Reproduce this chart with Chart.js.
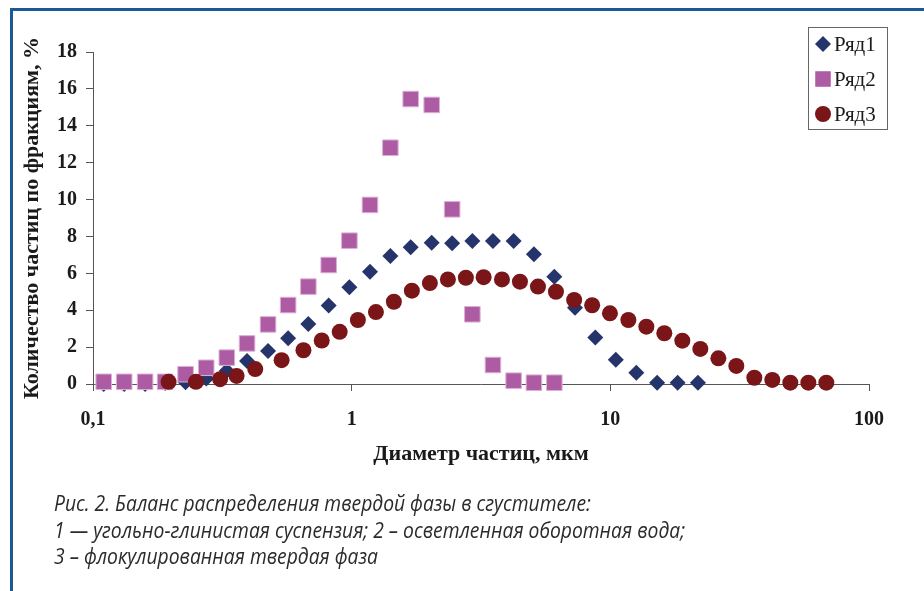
<!DOCTYPE html>
<html lang="ru">
<head>
    <meta charset="UTF-8">
    <title>Баланс распределения твердой фазы в сгустителе</title>
    <script src="https://cdn.jsdelivr.net/npm/chart.js"></script>
    <style>
        html, body { margin: 0; padding: 0; background: #fff; }
        #wrap { position: relative; width: 924px; height: 591px; overflow: hidden; }
        #frameTop { position: absolute; left: 10px; top: 8px; width: 914px; height: 3px; background: #1b5a97; }
        #frameLeft { position: absolute; left: 10px; top: 8px; width: 3px; height: 583px; background: #1b5a97; }
        #caption {
            position: absolute; left: 54px; top: 489px;
            font-family: "Open Sans", sans-serif; font-style: italic; font-size: 22px;
            line-height: 26.5px; color: #2b2b2b; white-space: nowrap;
            transform-origin: left top;
        }
        #chart { position: absolute; left: 0; top: 0; }
    </style>
</head>
<body>
<div id="wrap">
    <canvas id="chart" width="924" height="591"></canvas>
    <div id="frameTop"></div>
    <div id="frameLeft"></div>
    <div id="caption">
        <div>Рис. 2. Баланс распределения твердой фазы в сгустителе:</div>
        <div id="capLine2">1 — угольно-глинистая суспензия; 2 – осветленная оборотная вода;</div>
        <div>3 – флокулированная твердая фаза</div>
    </div>
</div>

<script>
    // Ряд1 - угольно-глинистая суспензия
    const x1 = [0.110, 0.132, 0.159, 0.190, 0.228, 0.274, 0.329, 0.394, 0.475, 0.568, 0.680, 0.815, 0.980,
                1.177, 1.411, 1.691, 2.039, 2.446, 2.928, 3.517, 4.228, 5.066, 6.074, 7.30, 8.75, 10.50,
                12.60, 15.17, 18.20, 21.81];
    const y1 = [0.0, 0.0, 0.0, 0.05, 0.1, 0.3, 0.72, 1.25, 1.79, 2.48, 3.25, 4.25, 5.24,
                6.09, 6.94, 7.41, 7.66, 7.63, 7.75, 7.75, 7.75, 7.03, 5.82, 4.14, 2.52, 1.32,
                0.61, 0.07, 0.07, 0.07];

    // Ряд2 - осветленная оборотная вода
    const x2 = [0.110, 0.132, 0.159, 0.190, 0.228, 0.274, 0.329, 0.394, 0.475, 0.568, 0.680, 0.815, 0.980,
                1.177, 1.411, 1.691, 2.039, 2.446, 2.928, 3.517, 4.228, 5.066, 6.074];
    const y2 = [0.12, 0.12, 0.12, 0.12, 0.53, 0.88, 1.43, 2.2, 3.23, 4.28, 5.28, 6.45, 7.77,
                9.71, 12.81, 15.45, 15.13, 9.47, 3.78, 1.03, 0.18, 0.07, 0.07];

    // Ряд3 - флокулированная твердая фаза
    const x3 = [0.196, 0.250, 0.310, 0.359, 0.424, 0.536, 0.651, 0.766, 0.899, 1.057, 1.241, 1.456, 1.709,
                2.006, 2.355, 2.764, 3.237, 3.811, 4.473, 5.251, 6.163, 7.246, 8.506, 9.966, 11.74,
                13.78, 16.17, 18.98, 22.28, 26.16, 30.70, 36.03, 42.29, 49.64, 58.28, 68.39];
    const y3 = [0.12, 0.12, 0.26, 0.44, 0.81, 1.29, 1.83, 2.36, 2.83, 3.47, 3.9, 4.46, 5.06,
                5.47, 5.67, 5.76, 5.79, 5.67, 5.55, 5.28, 5.0, 4.56, 4.27, 3.83, 3.47,
                3.11, 2.75, 2.35, 1.9, 1.39, 0.98, 0.34, 0.22, 0.07, 0.07, 0.07];

    const xTickValues = [0.1, 1, 10, 100];
    const xTickLabels = ['0,1', '1', '10', '100'];

    const toPoints = (xs, ys) => xs.map((x, i) => ({x: x, y: ys[i]}));

    const serif = '"Liberation Serif", "Times New Roman", serif';

    // legend in a box, top right
    const boxLegend = {
        id: 'boxLegend',
        afterDraw(chart) {
            const ctx = chart.ctx;
            ctx.save();
            ctx.fillStyle = '#fff';
            ctx.fillRect(808, 27, 80, 102);
            ctx.strokeStyle = '#666';
            ctx.lineWidth = 1;
            ctx.strokeRect(808.5, 27.5, 79, 102);
            ctx.font = '21px ' + serif;
            ctx.textBaseline = 'middle';
            chart.data.datasets.forEach((ds, i) => {
                const y = 44 + i * 35;
                ctx.fillStyle = ds.backgroundColor;
                Chart.helpers.drawPoint(ctx, {
                    pointStyle: ds.pointStyle,
                    radius: ds.legendRadius,
                    rotation: 0,
                    borderWidth: 0
                }, 823, y);
                ctx.fillStyle = '#1a1a1a';
                ctx.fillText(ds.label, 834, y + 1);
            });
            ctx.restore();
        }
    };

    const ctx = document.getElementById('chart').getContext('2d');
    new Chart(ctx, {
        type: 'scatter',
        data: {
            datasets: [
                {
                    label: 'Ряд1',
                    data: toPoints(x1, y1),
                    pointStyle: 'rectRot',
                    pointRadius: 8,
                    legendRadius: 8,
                    backgroundColor: '#25346a',
                    borderColor: '#25346a',
                    borderWidth: 0,
                    order: 2,
                    clip: false
                },
                {
                    label: 'Ряд2',
                    data: toPoints(x2, y2),
                    pointStyle: 'rect',
                    pointRadius: 11,
                    legendRadius: 11,
                    backgroundColor: '#ad5ca4',
                    borderColor: '#dcb0d6',
                    borderWidth: 1,
                    order: 1,
                    clip: false
                },
                {
                    label: 'Ряд3',
                    data: toPoints(x3, y3),
                    pointStyle: 'circle',
                    pointRadius: 8,
                    legendRadius: 8,
                    backgroundColor: '#7a1518',
                    borderColor: '#7a1518',
                    borderWidth: 0,
                    order: 0,
                    clip: false
                }
            ]
        },
        options: {
            responsive: false,
            animation: false,
            events: [],
            layout: {
                padding: { left: 0, top: 52, right: 55, bottom: 123 }
            },
            plugins: {
                legend: { display: false },
                tooltip: { enabled: false }
            },
            scales: {
                x: {
                    type: 'logarithmic',
                    min: 0.1,
                    max: 100,
                    afterBuildTicks: (scale) => {
                        scale.ticks = xTickValues.map(v => ({value: v}));
                    },
                    afterFit: (scale) => { scale.height = 84; },
                    border: { display: true, color: '#555', width: 1 },
                    grid: { drawOnChartArea: false, drawTicks: true, tickLength: 7, color: '#555' },
                    ticks: {
                        autoSkip: false,
                        maxRotation: 0,
                        padding: 17,
                        color: '#1a1a1a',
                        font: { family: serif, size: 20, weight: 'bold' },
                        callback: (value, index) => xTickLabels[index]
                    },
                    title: {
                        display: true,
                        text: 'Диаметр частиц, мкм',
                        color: '#1a1a1a',
                        padding: 0,
                        font: { family: serif, size: 22, weight: 'bold' }
                    }
                },
                y: {
                    min: 0,
                    max: 18,
                    afterFit: (scale) => { scale.width = 93; },
                    border: { display: true, color: '#555', width: 1 },
                    grid: { drawOnChartArea: false, drawTicks: true, tickLength: 7, color: '#555' },
                    ticks: {
                        stepSize: 2,
                        padding: 9,
                        color: '#1a1a1a',
                        font: { family: serif, size: 20, weight: 'bold' }
                    },
                    title: {
                        display: true,
                        text: 'Количество частиц по фракциям, %',
                        color: '#1a1a1a',
                        padding: { top: 19, bottom: 0 },
                        font: { family: serif, size: 22, weight: 'bold' }
                    }
                }
            }
        },
        plugins: [boxLegend]
    });

    // squeeze the caption to the condensed width of the original
    const cap = document.getElementById('caption');
    const line2 = document.getElementById('capLine2');
    const w = line2.getBoundingClientRect().width;
    if (w > 0) cap.style.transform = 'scaleX(' + (631 / w) + ')';
</script>
</body>
</html>
